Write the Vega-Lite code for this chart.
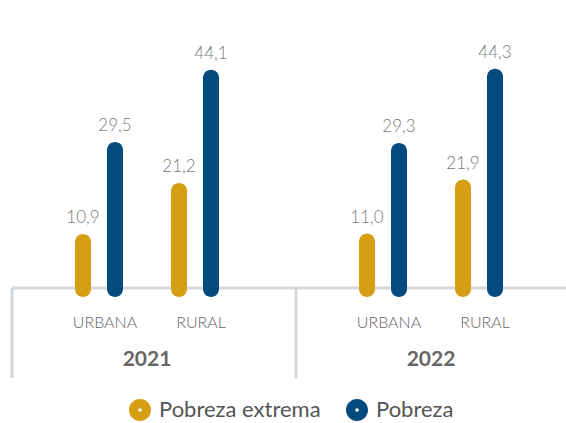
{
  "$schema": "https://vega.github.io/schema/vega-lite/v6.json",
  "width": 554,
  "height": 378,
  "autosize": {"type": "none"},
  "padding": {"left": 12, "top": 0, "right": 0, "bottom": 45},
  "config": {
    "view": {"stroke": null},
    "font": "Lato",
    "locale": {"number": {"decimal": ",", "thousands": ".", "grouping": [3], "currency": ["", ""]}}
  },
  "datasets": {
    "pobreza": [
      {"year": "2021", "zona": "URBANA", "tipo": "Pobreza extrema", "key": "URBANA|Pobreza extrema", "value": 10.9},
      {"year": "2021", "zona": "URBANA", "tipo": "Pobreza", "key": "URBANA|Pobreza", "value": 29.5},
      {"year": "2021", "zona": "RURAL", "tipo": "Pobreza extrema", "key": "RURAL|Pobreza extrema", "value": 21.2},
      {"year": "2021", "zona": "RURAL", "tipo": "Pobreza", "key": "RURAL|Pobreza", "value": 44.1},
      {"year": "2022", "zona": "URBANA", "tipo": "Pobreza extrema", "key": "URBANA|Pobreza extrema", "value": 11.0},
      {"year": "2022", "zona": "URBANA", "tipo": "Pobreza", "key": "URBANA|Pobreza", "value": 29.3},
      {"year": "2022", "zona": "RURAL", "tipo": "Pobreza extrema", "key": "RURAL|Pobreza extrema", "value": 21.9},
      {"year": "2022", "zona": "RURAL", "tipo": "Pobreza", "key": "RURAL|Pobreza", "value": 44.3}
    ],
    "zonas": [
      {"year": "2021", "zona": "URBANA", "key": "URBANA|Pobreza extrema"},
      {"year": "2021", "zona": "RURAL", "key": "RURAL|Pobreza extrema"},
      {"year": "2022", "zona": "URBANA", "key": "URBANA|Pobreza extrema"},
      {"year": "2022", "zona": "RURAL", "key": "RURAL|Pobreza extrema"}
    ],
    "anios": [{"year": "2021"}, {"year": "2022"}],
    "base": [{"nivel": 0}]
  },
  "layer": [
    {
      "data": {"name": "base"},
      "mark": {"type": "rule", "color": "#d3d8dd", "strokeWidth": 3},
      "encoding": {
        "y": {"field": "nivel", "type": "quantitative", "scale": {"domain": [-18.18, 58.18], "nice": false, "zero": false}, "axis": null}
      }
    },
    {
      "data": {"name": "anios"},
      "mark": {"type": "rule", "color": "#d3d8dd", "strokeWidth": 3},
      "encoding": {
        "x": {"field": "year", "type": "nominal", "bandPosition": 0, "axis": null,
              "scale": {"domain": ["2021", "2022"], "paddingInner": 0.0493, "paddingOuter": 0}},
        "y": {"datum": 0, "type": "quantitative"},
        "y2": {"datum": -18.18}
      }
    },
    {
      "data": {"name": "pobreza"},
      "mark": {"type": "bar", "cornerRadius": 8},
      "encoding": {
        "x": {"field": "year", "type": "nominal", "axis": null},
        "xOffset": {"field": "key", "type": "nominal",
                    "scale": {"domain": ["inicio", "URBANA|Pobreza extrema", "URBANA|Pobreza", "espacio", "RURAL|Pobreza extrema", "RURAL|Pobreza", "fin"], "paddingInner": 0.5, "paddingOuter": 0.96875}},
        "y": {"field": "value", "type": "quantitative"},
        "y2": {"datum": -1.8},
        "color": {"field": "tipo", "type": "nominal",
                  "scale": {"domain": ["Pobreza extrema", "Pobreza"], "range": ["#D69E12", "#034A7E"]},
                  "legend": {
                    "orient": "none", "legendX": 117, "legendY": 399, "direction": "horizontal", "title": null,
                    "labelFontSize": 22, "labelColor": "#555555", "labelFont": "Lato", "labelLimit": 400,
                    "symbolSize": 484, "symbolStrokeWidth": 0, "symbolOpacity": 1,
                    "symbolType": "M -1 0 A 1 1 0 1 1 1 0 A 1 1 0 1 1 -1 0 Z M -0.16 0 A 0.16 0.16 0 1 0 0.16 0 A 0.16 0.16 0 1 0 -0.16 0 Z",
                    "columnPadding": 25, "labelOffset": 8
                  }}
      }
    },
    {
      "data": {"name": "pobreza"},
      "mark": {"type": "text", "baseline": "bottom", "dy": -7, "fontSize": 17, "color": "#7a7a7a", "fontWeight": 300},
      "encoding": {
        "x": {"field": "year", "type": "nominal"},
        "xOffset": {"field": "key", "type": "nominal"},
        "y": {"field": "value", "type": "quantitative"},
        "text": {"field": "value", "type": "quantitative", "format": ".1f"}
      }
    },
    {
      "data": {"name": "zonas"},
      "mark": {"type": "text", "baseline": "middle", "align": "center", "dx": 22, "fontSize": 16, "color": "#666666", "fontWeight": 300},
      "encoding": {
        "x": {"field": "year", "type": "nominal"},
        "xOffset": {"field": "key", "type": "nominal"},
        "y": {"datum": -7, "type": "quantitative"},
        "text": {"field": "zona", "type": "nominal"}
      }
    },
    {
      "data": {"name": "anios"},
      "mark": {"type": "text", "baseline": "middle", "align": "center", "fontSize": 21, "color": "#666666", "fontWeight": "bold"},
      "encoding": {
        "x": {"field": "year", "type": "nominal"},
        "y": {"datum": -14.5, "type": "quantitative"},
        "text": {"field": "year", "type": "nominal"}
      }
    }
  ]
}
